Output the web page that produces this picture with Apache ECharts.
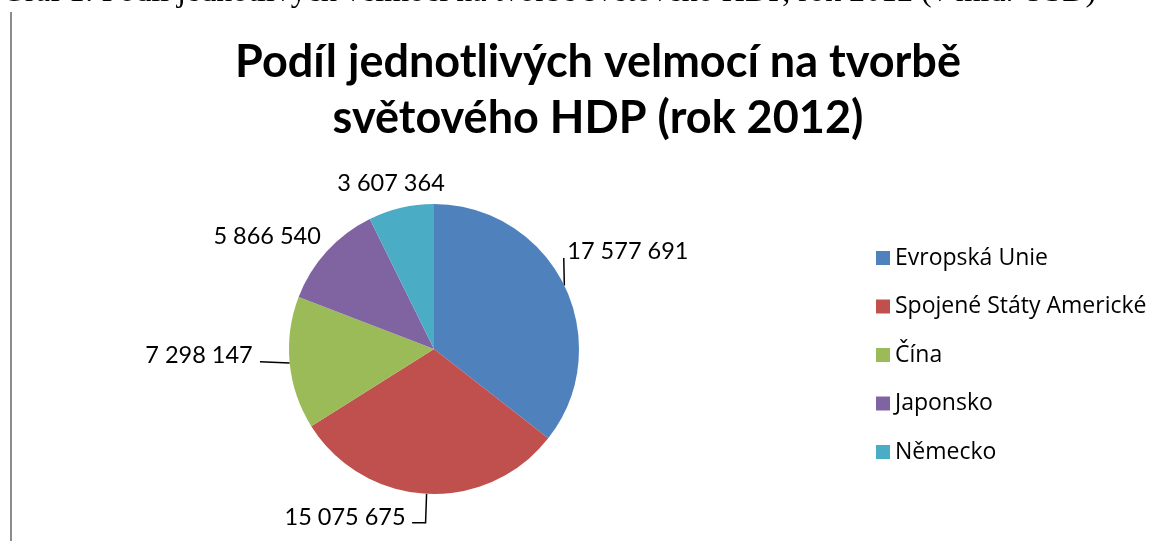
<!DOCTYPE html>
<html>
<head>
<meta charset="utf-8">
<script src="https://cdn.jsdelivr.net/npm/echarts@6/dist/echarts.min.js"></script>
<style>
  html, body { margin: 0; padding: 0; background: #fff; }
  #chart { width: 1161px; height: 541px; }
</style>
</head>
<body>
<div id="chart"></div>
<script>
const countries = ['Evropská Unie', 'Spojené Státy Americké', 'Čína', 'Japonsko', 'Německo']
const gdp = [17577691, 15075675, 7298147, 5866540, 3607364]
const colors = ['#4f81bd', '#c0504d', '#9bbb59', '#8064a2', '#4bacc6']

const CX = 434
const CY = 349
const R = 145

// where each value label sits relative to the slice edge (Excel style)
const labelPlacement = [
  { dx: 3, dy: -34, align: 'left', line: [[0, 0], [-0.6, -27.4]] },
  { dx: -21, dy: 24, align: 'right', line: [[0, 0], [-1, 29], [-14.5, 29]] },
  { dx: -37, dy: -8, align: 'right', line: [[0, 0], [-29.7, -1.4]] },
  { dx: -6, dy: -15, align: 'right' },
  { dx: -10, dy: -24, align: 'center' }
]

const total = gdp.reduce((a, b) => a + b, 0)
const edgePoint = (i) => {
  let before = 0
  for (let k = 0; k < i; k++) before += gdp[k]
  const mid = (before + gdp[i] / 2) / total * Math.PI * 2
  return [CX + R * Math.sin(mid), CY - R * Math.cos(mid)]
}

const fmt = (v) => String(v).replace(/\B(?=(\d{3})+(?!\d))/g, ' ')

const chart = echarts.init(document.getElementById('chart'))
chart.setOption({
  animation: false,
  color: colors,
  title: {
    text: 'Podíl jednotlivých velmocí na tvorbě\nsvětového HDP (rok 2012)',
    left: 593,
    top: 29,
    textAlign: 'center',
    textStyle: {
      fontFamily: 'Lato',
      fontWeight: 'bold',
      fontSize: 45,
      lineHeight: 56,
      color: '#000'
    }
  },
  legend: {
    orient: 'vertical',
    left: 871,
    top: 241,
    icon: 'rect',
    itemWidth: 14,
    itemHeight: 14,
    itemGap: 24.5,
    textStyle: {
      fontFamily: 'Open Sans',
      fontSize: 23,
      lineHeight: 24,
      color: '#000'
    },
    data: countries
  },
  graphic: [
    {
      type: 'text',
      x: 2,
      y: 9,
      style: {
        text: 'Graf 1: Podíl jednotlivých velmocí na tvorbě světového HDP, rok 2012 (v mld. USD)',
        fontFamily: 'Liberation Serif',
        fontSize: 32,
        verticalAlign: 'bottom',
        fill: '#000'
      }
    },
    {
      type: 'line',
      shape: { x1: 11, y1: 12, x2: 11, y2: 541 },
      style: { stroke: '#8c8c8c', lineWidth: 2 }
    }
  ],
  series: [{
    type: 'pie',
    center: [CX, CY],
    radius: R,
    startAngle: 90,
    clockwise: true,
    data: countries.map((name, i) => ({
      name,
      value: gdp[i],
      labelLine: { show: !!labelPlacement[i].line }
    })),
    itemStyle: { borderWidth: 0 },
    label: {
      show: true,
      position: 'outside',
      formatter: (p) => fmt(p.value),
      fontFamily: 'Lato',
      fontSize: 23.5,
      color: '#000'
    },
    labelLine: {
      show: true,
      lineStyle: { color: '#000', width: 1.5 }
    },
    labelLayout: (params) => {
      const i = params.dataIndex
      const pl = labelPlacement[i]
      const [ex, ey] = edgePoint(i)
      const out = {
        x: ex + pl.dx,
        y: ey + pl.dy,
        align: pl.align,
        verticalAlign: 'middle'
      }
      if (pl.line) out.labelLinePoints = pl.line.map(([a, b]) => [ex + a, ey + b])
      return out
    }
  }]
})
</script>
</body>
</html>
